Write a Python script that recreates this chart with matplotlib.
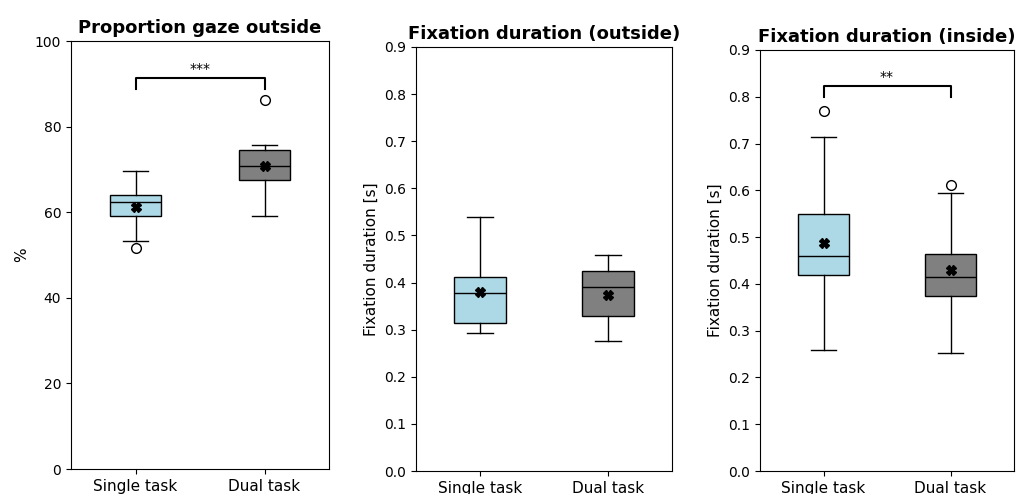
import numpy as np
import matplotlib.pyplot as plt

labels = ["Single task", "Dual task"]
colors = ["lightblue", "grey"]

# box statistics per panel: [single, dual]
titles = ["Proportion gaze outside", "Fixation duration (outside)", "Fixation duration (inside)"]
ylabels = ["%", "Fixation duration [s]", "Fixation duration [s]"]

prop_whislo = [53.3, 59.2]
prop_q1 = [59.0, 67.5]
prop_med = [62.4, 70.8]
prop_q3 = [64.0, 74.5]
prop_whishi = [69.6, 75.6]
prop_mean = [61.2, 70.7]
prop_fliers = [[51.7], [86.3]]

out_whislo = [0.292, 0.276]
out_q1 = [0.314, 0.328]
out_med = [0.377, 0.390]
out_q3 = [0.411, 0.425]
out_whishi = [0.540, 0.458]
out_mean = [0.381, 0.374]
out_fliers = [[], []]

in_whislo = [0.259, 0.252]
in_q1 = [0.418, 0.374]
in_med = [0.460, 0.415]
in_q3 = [0.549, 0.464]
in_whishi = [0.713, 0.594]
in_mean = [0.488, 0.430]
in_fliers = [[0.770], [0.611]]

# significance brackets: (bar height, drop, text)
sig = [(91.4, 2.5, "***"), None, (0.822, 0.023, "**")]
ylims = [(0, 100), (0, 0.9), (0, 0.9)]

panels = [
    (prop_whislo, prop_q1, prop_med, prop_q3, prop_whishi, prop_mean, prop_fliers),
    (out_whislo, out_q1, out_med, out_q3, out_whishi, out_mean, out_fliers),
    (in_whislo, in_q1, in_med, in_q3, in_whishi, in_mean, in_fliers),
]

fig = plt.figure(figsize=(10.17, 4.94), dpi=100)
rects = [
    [71/1017, 25/494, 258/1017, 428/494],
    [416/1017, 23/494, 256/1017, 424/494],
    [760/1017, 23/494, 254/1017, 421/494],
]

for k in range(3):
    ax = fig.add_axes(rects[k])
    wl, q1, med, q3, wh, mn, fl = panels[k]
    stats = []
    for i in range(2):
        stats.append(dict(whislo=wl[i], q1=q1[i], med=med[i], q3=q3[i],
                          whishi=wh[i], mean=mn[i], fliers=fl[i], label=labels[i]))
    bp = ax.bxp(stats, positions=[1, 2], widths=0.4, patch_artist=True,
                showmeans=True,
                meanprops=dict(marker="X", markerfacecolor="black",
                               markeredgecolor="black", markersize=7),
                medianprops=dict(color="black"),
                flierprops=dict(marker="o", markerfacecolor="white",
                                markeredgecolor="black", markersize=7))
    for patch, c in zip(bp["boxes"], colors):
        patch.set_facecolor(c)
        patch.set_edgecolor("black")
    ax.set_xlim(0.5, 2.5)
    ax.set_ylim(*ylims[k])
    ax.set_title(titles[k], fontsize=13, fontweight="bold")
    ax.set_ylabel(ylabels[k], fontsize=11)
    ax.tick_params(axis="x", labelsize=11)
    if sig[k] is not None:
        y, h, txt = sig[k]
        ax.plot([1, 1, 2, 2], [y - h, y, y, y - h], color="black", lw=1.5)
        ax.text(1.5, y + h * 0.2, txt, ha="center", va="bottom", fontsize=10)

plt.savefig("out.png", dpi=100)
